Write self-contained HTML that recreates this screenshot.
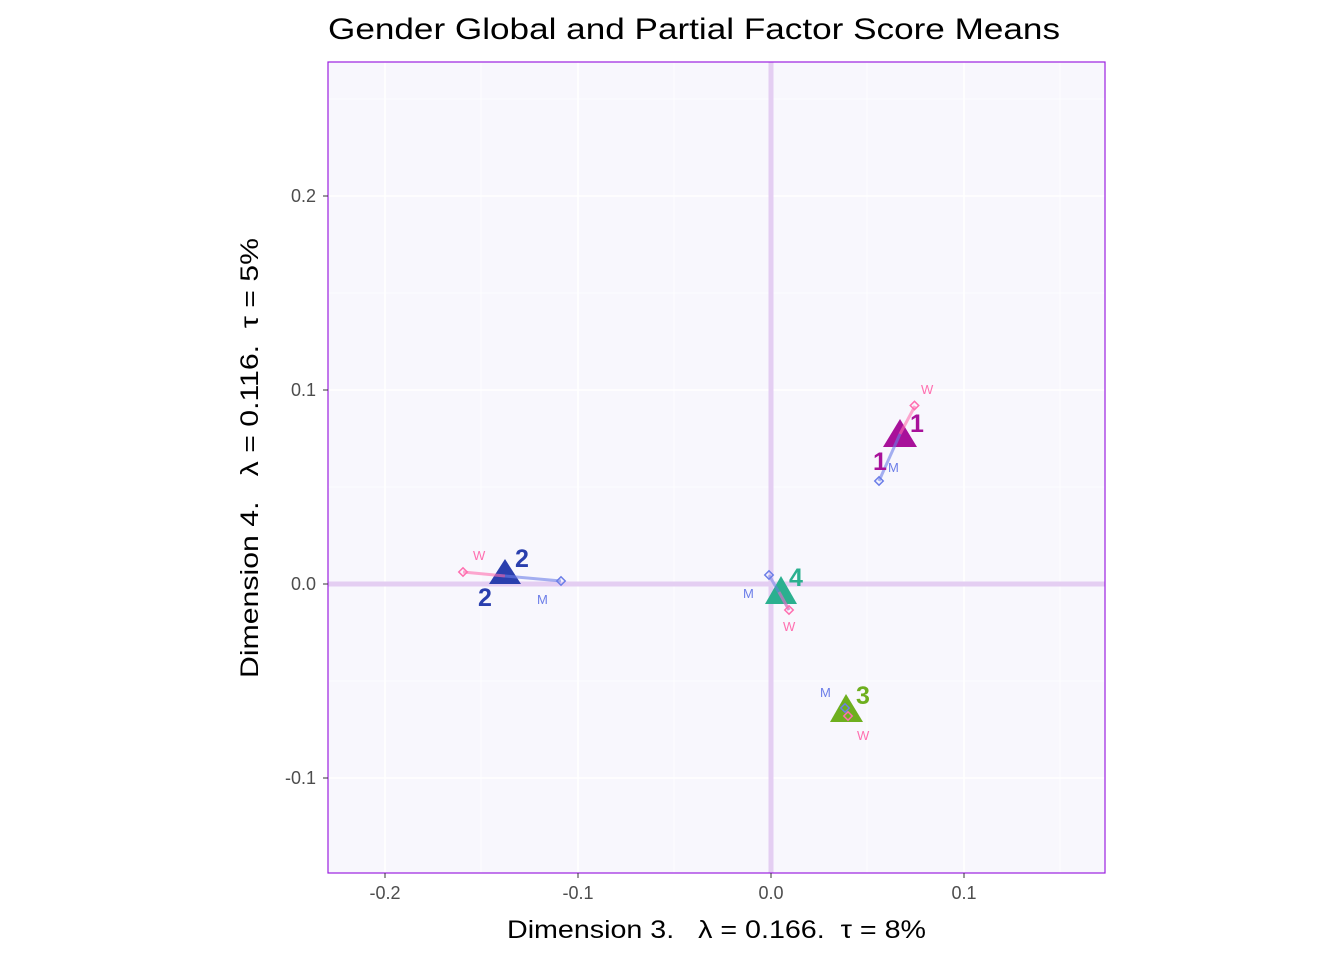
<!DOCTYPE html>
<html><head><style>body{margin:0;background:#fff} text{white-space:pre}</style></head><body>
<svg width="1344" height="960" xmlns="http://www.w3.org/2000/svg" font-family="Liberation Sans, sans-serif">
<rect width="1344" height="960" fill="#fff"/>
<text x="328" y="39" font-size="30" fill="#000" textLength="732" lengthAdjust="spacingAndGlyphs">Gender Global and Partial Factor Score Means</text>
<rect x="328" y="62" width="777" height="811" fill="#f8f7fd"/>
<g stroke="#fff" stroke-width="0.8">
<line x1="481" y1="62" x2="481" y2="873"/><line x1="674" y1="62" x2="674" y2="873"/><line x1="867" y1="62" x2="867" y2="873"/><line x1="1060" y1="62" x2="1060" y2="873"/>
<line x1="328" y1="99" x2="1105" y2="99"/><line x1="328" y1="293" x2="1105" y2="293"/><line x1="328" y1="487" x2="1105" y2="487"/><line x1="328" y1="681" x2="1105" y2="681"/>
</g>
<g stroke="#fff" stroke-width="1.6">
<line x1="385" y1="62" x2="385" y2="873"/><line x1="578" y1="62" x2="578" y2="873"/><line x1="964" y1="62" x2="964" y2="873"/>
<line x1="328" y1="196" x2="1105" y2="196"/><line x1="328" y1="390" x2="1105" y2="390"/><line x1="328" y1="778" x2="1105" y2="778"/>
</g>
<line x1="771" y1="62" x2="771" y2="873" stroke="#e4cef2" stroke-width="5"/>
<line x1="328" y1="584" x2="1105" y2="584" stroke="#e4cef2" stroke-width="5"/>
<rect x="328" y="62" width="777" height="811" fill="none" stroke="#9b20e0" stroke-width="1.2"/>
<g font-size="18" fill="#4d4d4d" text-anchor="end">
<text x="316" y="202">0.2</text><text x="316" y="396">0.1</text><text x="316" y="590">0.0</text><text x="316" y="784">-0.1</text>
</g>
<g font-size="18" fill="#4d4d4d" text-anchor="middle">
<text x="385" y="899">-0.2</text><text x="578" y="899">-0.1</text><text x="771" y="899">0.0</text><text x="964" y="899">0.1</text>
</g>
<g stroke="#333" stroke-width="1">
<line x1="323" y1="196" x2="328" y2="196"/><line x1="323" y1="390" x2="328" y2="390"/><line x1="323" y1="584" x2="328" y2="584"/><line x1="323" y1="778" x2="328" y2="778"/>
<line x1="385" y1="873" x2="385" y2="878"/><line x1="578" y1="873" x2="578" y2="878"/><line x1="771" y1="873" x2="771" y2="878"/><line x1="964" y1="873" x2="964" y2="878"/>
</g>
<text x="507" y="938" font-size="25" xml:space="preserve" textLength="419" lengthAdjust="spacingAndGlyphs">Dimension 3.   λ = 0.166.  τ = 8%</text>
<text transform="translate(258,678) rotate(-90)" font-size="25" xml:space="preserve" textLength="440" lengthAdjust="spacingAndGlyphs">Dimension 4.   λ = 0.116.  τ = 5%</text>
<!-- group 1 -->
<polygon points="900,419 917,447 883,447" fill="#a8119a"/>
<line x1="900" y1="434" x2="915" y2="406" stroke="#ff6fb0" stroke-width="3" opacity="0.6"/>
<line x1="900" y1="434" x2="879" y2="481" stroke="#6c7ee8" stroke-width="3" opacity="0.6"/>
<rect x="911.5" y="402.5" width="6" height="6" transform="rotate(45 914.5 405.5)" fill="none" stroke="#ff6fb0" stroke-width="1.5"/>
<rect x="876" y="478" width="6" height="6" transform="rotate(45 879 481)" fill="none" stroke="#6c7ee8" stroke-width="1.5"/>
<text x="910" y="432" font-size="25" font-weight="bold" fill="#a8119a">1</text>
<text x="873" y="470" font-size="25" font-weight="bold" fill="#a8119a">1</text>
<text x="921" y="394" font-size="13" fill="#ff6fb0">W</text>
<text x="888" y="472" font-size="13" fill="#6c7ee8">M</text>
<!-- group 2 -->
<polygon points="505,559 521,584 489,584" fill="#2a3fae"/>
<line x1="505" y1="576" x2="463" y2="572" stroke="#ff6fb0" stroke-width="3" opacity="0.6"/>
<line x1="505" y1="576" x2="561" y2="581" stroke="#6c7ee8" stroke-width="3" opacity="0.6"/>
<rect x="460" y="569" width="6" height="6" transform="rotate(45 463 572)" fill="none" stroke="#ff6fb0" stroke-width="1.5"/>
<rect x="558" y="578" width="6" height="6" transform="rotate(45 561 581)" fill="none" stroke="#6c7ee8" stroke-width="1.5"/>
<text x="515" y="567" font-size="25" font-weight="bold" fill="#2a3fae">2</text>
<text x="478" y="606" font-size="25" font-weight="bold" fill="#2a3fae">2</text>
<text x="473" y="560" font-size="13" fill="#ff6fb0">W</text>
<text x="537" y="604" font-size="13" fill="#6c7ee8">M</text>
<!-- group 4 -->
<polygon points="781,576 797,604 765,604" fill="#2bb08f"/>
<line x1="769" y1="575" x2="789" y2="610" stroke="#6c7ee8" stroke-width="3" opacity="0.5"/>
<line x1="779" y1="592" x2="789" y2="610" stroke="#ff6fb0" stroke-width="3" opacity="0.5"/>
<rect x="766" y="572" width="6" height="6" transform="rotate(45 769 575)" fill="none" stroke="#6c7ee8" stroke-width="1.5"/>
<rect x="786" y="607" width="6" height="6" transform="rotate(45 789 610)" fill="none" stroke="#ff6fb0" stroke-width="1.5"/>
<text x="789" y="586" font-size="25" font-weight="bold" fill="#2bb08f">4</text>
<text x="743" y="598" font-size="13" fill="#6c7ee8">M</text>
<text x="783" y="631" font-size="13" fill="#ff6fb0">W</text>
<!-- group 3 -->
<polygon points="846,694 863,722 830,722" fill="#6eaf1e"/>
<rect x="842" y="705" width="6" height="6" transform="rotate(45 845 708)" fill="none" stroke="#6c7ee8" stroke-width="1.5"/>
<rect x="845" y="713" width="6" height="6" transform="rotate(45 848 716)" fill="none" stroke="#ff6fb0" stroke-width="1.5"/>
<text x="856" y="704" font-size="25" font-weight="bold" fill="#6eaf1e">3</text>
<text x="820" y="697" font-size="13" fill="#6c7ee8">M</text>
<text x="857" y="740" font-size="13" fill="#ff6fb0">W</text>
</svg>
</body></html>
